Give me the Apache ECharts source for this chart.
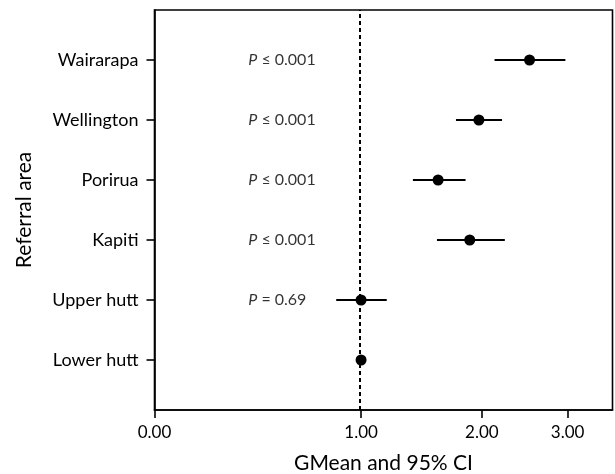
<!DOCTYPE html>
<html>
<head>
<meta charset="utf-8">
<script src="https://cdn.jsdelivr.net/npm/echarts@6/dist/echarts.min.js"></script>
<style>
  html, body { margin: 0; padding: 0; background: #fff; }
  #chart { width: 615px; height: 474px; }
</style>
</head>
<body>
<div id="chart"></div>
<script>
// Referral areas, bottom to top
const areas = ['Lower hutt', 'Upper hutt', 'Kapiti', 'Porirua', 'Wellington', 'Wairarapa'];
// Geometric mean ratio and 95% confidence interval
const gmean  = [1.00, 1.00, 1.88, 1.59, 1.97, 2.52];
const ciLow  = [1.00, 0.84, 1.58, 1.38, 1.75, 2.13];
const ciHigh = [1.00, 1.18, 2.24, 1.84, 2.21, 2.97];
// P-value annotations
const pRelation = ['', '=', '≤', '≤', '≤', '≤'];
const pValue    = ['', '0.69', '0.001', '0.001', '0.001', '0.001'];
// Axis ticks (GMean units)
const xTicks = [0, 1, 2, 3];
const xMax = 3.65;
const referenceValue = 1;
const pColumnX = 0.37;

const FONT = 'Lato, "Open Sans", sans-serif';

// the x axis is drawn on a log(1 + x) scale
const t = v => Math.log(1 + v);
const inv = u => Math.exp(u) - 1;

const yPos = areas.map((_, i) => i + 1);

const chart = echarts.init(document.getElementById('chart'), null, { renderer: 'canvas' });

chart.setOption({
  animation: false,
  backgroundColor: '#fff',
  grid: {
    left: 154.5, right: 2.5, top: 10, bottom: 64,
    outerBoundsMode: 'none',
    containLabel: false,
    show: true, borderColor: '#000', borderWidth: 1.6, backgroundColor: 'transparent'
  },
  xAxis: {
    type: 'value',
    min: 0,
    max: t(xMax),
    name: 'GMean and 95% CI',
    nameLocation: 'middle',
    nameGap: 43,
    nameTextStyle: { color: '#000', fontSize: 21, fontFamily: FONT },
    splitLine: { show: false },
    axisLine: { show: true, onZero: false, lineStyle: { color: '#000', width: 1.6 } },
    axisTick: { show: true, length: 8, lineStyle: { color: '#000', width: 1.6 }, customValues: xTicks.map(t) },
    axisLabel: {
      color: '#000', fontSize: 17, fontFamily: FONT, margin: 14,
      customValues: xTicks.map(t),
      formatter: v => inv(v).toFixed(2)
    }
  },
  yAxis: {
    type: 'value',
    min: 1 - 0.8333,
    max: areas.length + 0.8333,
    name: 'Referral area',
    nameLocation: 'middle',
    nameRotate: 90,
    nameGap: 120,
    nameTextStyle: { color: '#000', fontSize: 21, fontFamily: FONT },
    splitLine: { show: false },
    axisLine: { show: true, onZero: false, lineStyle: { color: '#000', width: 1.6 } },
    axisTick: { show: true, length: 8, lineStyle: { color: '#000', width: 1.6 }, customValues: yPos },
    axisLabel: {
      color: '#000', fontSize: 18, fontFamily: FONT, margin: 16,
      customValues: yPos,
      formatter: v => areas[Math.round(v) - 1]
    }
  },
  series: [
    {
      // confidence interval whiskers
      type: 'custom',
      z: 3,
      data: areas.map((_, i) => [t(ciLow[i]), t(ciHigh[i]), i + 1]),
      renderItem: (params, api) => {
        const a = api.coord([api.value(0), api.value(2)]);
        const b = api.coord([api.value(1), api.value(2)]);
        return {
          type: 'line',
          shape: { x1: a[0], y1: a[1], x2: b[0], y2: b[1] },
          style: { stroke: '#000', lineWidth: 1.8 }
        };
      }
    },
    {
      // point estimates
      type: 'scatter',
      z: 4,
      symbol: 'circle',
      symbolSize: 11,
      itemStyle: { color: '#000', opacity: 1 },
      data: areas.map((_, i) => [t(gmean[i]), i + 1]),
      markLine: {
        silent: true,
        symbol: 'none',
        label: { show: false },
        lineStyle: { color: '#000', type: [4, 3], width: 2, opacity: 1 },
        data: [{ xAxis: t(referenceValue) }]
      }
    },
    {
      // P-value column
      type: 'scatter',
      z: 5,
      symbolSize: 0,
      itemStyle: { color: 'transparent' },
      data: areas.map((_, i) => ({ value: [t(pColumnX), i + 1], rel: pRelation[i], p: pValue[i] })),
      label: {
        show: true,
        position: 'right',
        distance: 0,
        color: '#000',
        fontSize: 16,
        fontFamily: FONT,
        formatter: params => {
          const d = params.data;
          return d.p ? '{i|P} ' + d.rel + ' ' + d.p : '';
        },
        rich: {
          i: { fontStyle: 'italic', fontSize: 16, fontFamily: FONT, color: '#000' }
        }
      }
    }
  ]
});
</script>
</body>
</html>
